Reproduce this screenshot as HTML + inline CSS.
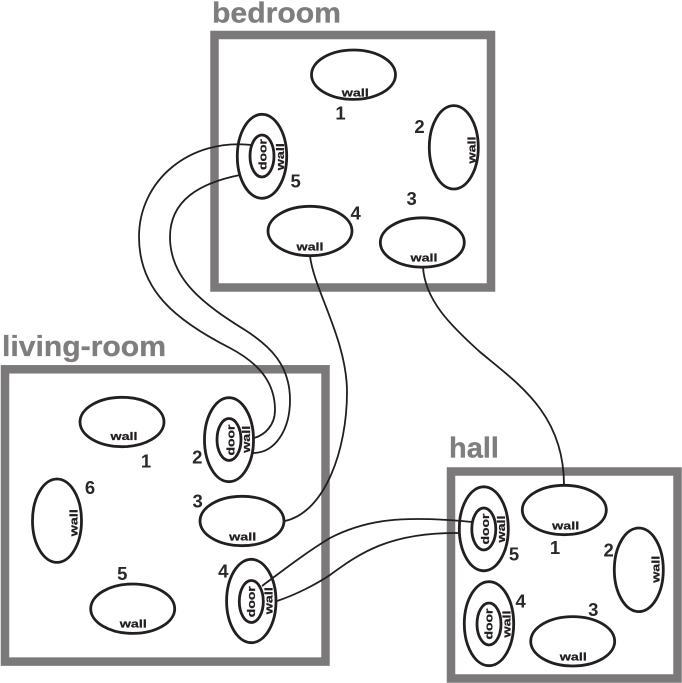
<!DOCTYPE html>
<html>
<head>
<meta charset="utf-8">
<style>
html,body{margin:0;padding:0;background:#fff;width:682px;height:683px;overflow:hidden}
svg{display:block}
text{font-family:"Liberation Sans",sans-serif}
.f{fill:none;stroke:#7b797a;stroke-width:8.5}
.e{fill:none;stroke:#231f20;stroke-width:2.8}
.c{fill:none;stroke:#231f20;stroke-width:1.8}
.t{fill:#7f7d7e;stroke:#7f7d7e;stroke-width:.3;font-weight:bold;font-size:29px}
.n{fill:#2b2829;font-size:18.5px;font-weight:bold;text-anchor:middle}
.w{fill:#231f20;stroke:#231f20;stroke-width:.25;font-size:11px;font-weight:bold;text-anchor:middle}
</style>
</head>
<body>
<svg width="682" height="683" viewBox="0 0 682 683" xmlns="http://www.w3.org/2000/svg">
<rect class="f" x="214.5" y="35" width="276.5" height="252.5"/>
<rect class="f" x="5" y="369.3" width="320.5" height="292.3"/>
<rect class="f" x="451" y="471.5" width="226.5" height="207"/>

<text class="t" x="212" y="22.7" textLength="129" lengthAdjust="spacingAndGlyphs">bedroom</text>
<text class="t" x="2" y="356" textLength="164" lengthAdjust="spacingAndGlyphs">living-room</text>
<text class="t" x="449" y="457.3" textLength="50" lengthAdjust="spacingAndGlyphs">hall</text>

<!-- connectors -->
<path class="c" d="M252,145 C190,138 139,180 139,237 C139,290 175,320 230,348 C262,365 275,385 275,410 C275,425 265,435 254,438"/>
<path class="c" d="M240,175 C200,183 170,200 170,237 C170,280 205,305 245,330 C270,346 290,365 290,400 C290,430 275,453 253,453"/>
<path class="c" d="M310,256 C314,290 347,340 347,392 C347,450 325,512 285,521"/>
<path class="c" d="M423,267 C425,300 450,325 480,352 C520,385 564,415 564,485"/>
<path class="c" d="M262,586 C290,565 310,550 330,538 C365,520 400,515 472,522"/>
<path class="c" d="M277,601 C295,595 315,585 330,575 C360,553 390,532 460,533"/>

<!-- bedroom -->
<ellipse class="e" cx="353.5" cy="74.7" rx="42" ry="24.7"/>
<ellipse class="e" cx="453.8" cy="147.3" rx="24.5" ry="41.7"/>
<ellipse class="e" cx="422.3" cy="242.5" rx="42" ry="24.7"/>
<ellipse class="e" cx="310" cy="231" rx="42" ry="24.7"/>
<ellipse class="e" cx="262" cy="156.3" rx="24.7" ry="42"/>
<ellipse class="e" cx="262" cy="156" rx="12" ry="21"/>
<text class="n" x="340.5" y="119.5">1</text>
<text class="n" x="419.5" y="133">2</text>
<text class="n" x="411.7" y="205">3</text>
<text class="n" x="355.7" y="219.3">4</text>
<text class="n" x="295.7" y="187.3">5</text>
<text class="w" x="355.3" y="96.7" textLength="27" lengthAdjust="spacingAndGlyphs">wall</text>
<text class="w" x="424" y="261.7" textLength="27" lengthAdjust="spacingAndGlyphs">wall</text>
<text class="w" x="310" y="250.7" textLength="27" lengthAdjust="spacingAndGlyphs">wall</text>
<text class="w" transform="translate(475.3,150) rotate(-90)" textLength="27" lengthAdjust="spacingAndGlyphs">wall</text>
<text class="w" transform="translate(284,156.7) rotate(-90)" textLength="27" lengthAdjust="spacingAndGlyphs">wall</text>
<text class="w" transform="translate(266.3,154.5) rotate(-90)" textLength="31" lengthAdjust="spacingAndGlyphs">door</text>

<!-- living-room -->
<ellipse class="e" cx="122" cy="422" rx="42" ry="24.7"/>
<ellipse class="e" cx="229" cy="439.7" rx="24.5" ry="42"/>
<ellipse class="e" cx="229" cy="439.5" rx="12" ry="21"/>
<ellipse class="e" cx="242" cy="521" rx="42" ry="24.7"/>
<ellipse class="e" cx="251.3" cy="601" rx="24.7" ry="41.7"/>
<ellipse class="e" cx="251.3" cy="601.5" rx="12" ry="21"/>
<ellipse class="e" cx="132.7" cy="608.7" rx="42" ry="24.7"/>
<ellipse class="e" cx="57" cy="520.7" rx="24.5" ry="41.7"/>
<text class="n" x="146" y="467.7">1</text>
<text class="n" x="197.3" y="463.3">2</text>
<text class="n" x="197.7" y="507.3">3</text>
<text class="n" x="223.3" y="577.7">4</text>
<text class="n" x="122.3" y="580">5</text>
<text class="n" x="90" y="494">6</text>
<text class="w" x="124" y="440" textLength="27" lengthAdjust="spacingAndGlyphs">wall</text>
<text class="w" x="242.7" y="540.7" textLength="27" lengthAdjust="spacingAndGlyphs">wall</text>
<text class="w" x="133.3" y="627.3" textLength="27" lengthAdjust="spacingAndGlyphs">wall</text>
<text class="w" transform="translate(250,439.3) rotate(-90)" textLength="27" lengthAdjust="spacingAndGlyphs">wall</text>
<text class="w" transform="translate(234.3,440) rotate(-90)" textLength="31" lengthAdjust="spacingAndGlyphs">door</text>
<text class="w" transform="translate(77.3,522.7) rotate(-90)" textLength="27" lengthAdjust="spacingAndGlyphs">wall</text>
<text class="w" transform="translate(272.7,600.7) rotate(-90)" textLength="27" lengthAdjust="spacingAndGlyphs">wall</text>
<text class="w" transform="translate(255,601.7) rotate(-90)" textLength="31" lengthAdjust="spacingAndGlyphs">door</text>

<!-- hall -->
<ellipse class="e" cx="564.3" cy="510" rx="42" ry="24.7"/>
<ellipse class="e" cx="638.8" cy="569.8" rx="24.5" ry="41.8"/>
<ellipse class="e" cx="572.7" cy="641.3" rx="42" ry="24.7"/>
<ellipse class="e" cx="489" cy="623.7" rx="24.7" ry="42"/>
<ellipse class="e" cx="489" cy="624" rx="12" ry="21"/>
<ellipse class="e" cx="483.8" cy="528.8" rx="24.5" ry="42"/>
<ellipse class="e" cx="483.8" cy="529" rx="12" ry="21"/>
<text class="n" x="555" y="554">1</text>
<text class="n" x="608.7" y="556.7">2</text>
<text class="n" x="593.3" y="616">3</text>
<text class="n" x="520.7" y="607.3">4</text>
<text class="n" x="514" y="560.7">5</text>
<text class="w" x="565.7" y="529.3" textLength="27" lengthAdjust="spacingAndGlyphs">wall</text>
<text class="w" x="573.3" y="660.7" textLength="27" lengthAdjust="spacingAndGlyphs">wall</text>
<text class="w" transform="translate(505,529) rotate(-90)" textLength="27" lengthAdjust="spacingAndGlyphs">wall</text>
<text class="w" transform="translate(489,529) rotate(-90)" textLength="31" lengthAdjust="spacingAndGlyphs">door</text>
<text class="w" transform="translate(510.7,624) rotate(-90)" textLength="27" lengthAdjust="spacingAndGlyphs">wall</text>
<text class="w" transform="translate(492.3,624) rotate(-90)" textLength="31" lengthAdjust="spacingAndGlyphs">door</text>
<text class="w" transform="translate(659.3,569.3) rotate(-90)" textLength="27" lengthAdjust="spacingAndGlyphs">wall</text>
</svg>
</body>
</html>
